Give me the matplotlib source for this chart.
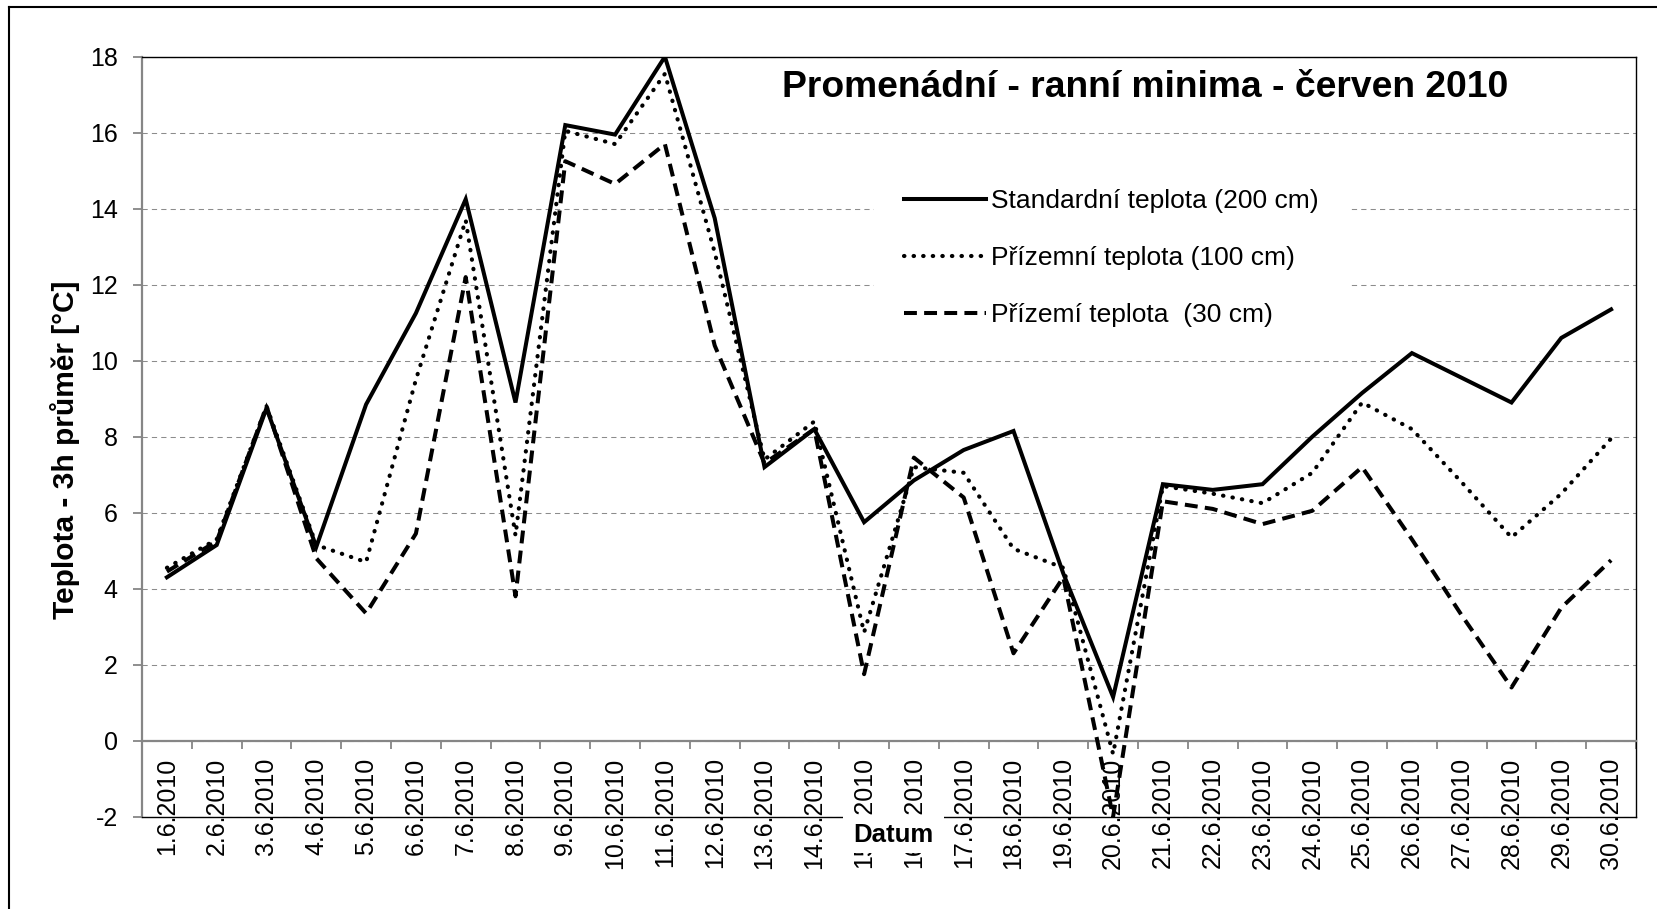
import matplotlib
matplotlib.use("Agg")
import matplotlib.pyplot as plt
from matplotlib.lines import Line2D
from matplotlib.patches import Rectangle

plt.rcParams["font.family"] = ["Liberation Sans", "DejaVu Sans"]
plt.rcParams["axes.unicode_minus"] = False

W, H = 1657, 909

days = ["%d.6.2010" % d for d in range(1, 31)]

t_200 = [4.3, 5.15, 8.75, 5.1, 8.85, 11.25, 14.25, 8.9, 16.2, 15.95,
         18.0, 13.75, 7.2, 8.2, 5.75, 6.85, 7.65, 8.15, 4.4, 1.15,
         6.75, 6.6, 6.75, 8.0, 9.15, 10.2, 9.55, 8.9, 10.6, 11.35]
t_100 = [4.55, 5.3, 8.8, 5.15, 4.7, 9.5, 13.7, 5.4, 16.05, 15.7,
         17.55, 12.85, 7.4, 8.4, 2.85, 7.2, 7.05, 5.05, 4.55, -0.35,
         6.7, 6.5, 6.25, 7.05, 8.9, 8.2, 6.8, 5.35, 6.5, 7.95]
t_30 = [4.45, 5.25, 8.8, 4.8, 3.35, 5.45, 12.2, 3.8, 15.25, 14.65,
        15.7, 10.4, 7.3, 8.2, 1.75, 7.45, 6.4, 2.3, 4.3, -2.0,
        6.3, 6.1, 5.7, 6.05, 7.2, 5.3, 3.3, 1.4, 3.5, 4.75]

labels = ["Standardní teplota (200 cm)", "Přízemní teplota (100 cm)", "Přízemí teplota  (30 cm)"]

fig = plt.figure(figsize=(W / 100, H / 100), dpi=100)
ax = fig.add_axes([142 / W, 1 - 816.7 / H, 1494 / W, 760 / H])

x = list(range(len(days)))
l1, = ax.plot(x, t_200, color="black", lw=2.9, solid_joinstyle="miter", zorder=4)
l2, = ax.plot(x, t_100, color="black", lw=3.0, linestyle=(0, (0.1, 2.2)),
              dash_capstyle="round", zorder=4)
l3, = ax.plot(x, t_30, color="black", lw=2.9, linestyle=(0, (3.2, 1.8)), zorder=4)

ax.set_xlim(-0.5, 29.5)
ax.set_ylim(-2, 18)

# gridlines
ax.set_yticks(range(-2, 19, 2))
ax.yaxis.grid(True, color="#8c8c8c", lw=0.75, linestyle=(0, (5, 4)))
ax.set_axisbelow(True)

ax.set_xticks(x)
ax.set_xticklabels(days)
ax.set_xticks([i - 0.5 for i in range(31)], minor=True)
ax.tick_params(axis="x", which="major", length=0, pad=12, labelsize=18, labelrotation=90)
ax.tick_params(axis="x", which="minor", length=6, width=1.3, color="#868686", direction="out")
ax.tick_params(axis="y", length=6.5, width=1.3, color="#868686", pad=11, labelsize=18)

for s in ("left", "bottom"):
    ax.spines[s].set_color("#868686")
    ax.spines[s].set_linewidth(1.6)
ax.spines["bottom"].set_position(("data", 0))
for s in ("top", "right"):
    ax.spines[s].set_color("black")
    ax.spines[s].set_linewidth(1.0)
ax.axhline(-2, color="black", lw=1.0, clip_on=False, zorder=2.6)

leg = ax.legend([l1, l2, l3], labels, loc="upper left",
                bbox_to_anchor=(874 / W, 1 - 159 / H), bbox_transform=fig.transFigure,
                borderaxespad=0, borderpad=1.15, fontsize=19, handlelength=3.1,
                handletextpad=0.2, labelspacing=1.25, fancybox=False,
                facecolor="white", framealpha=1)
leg.get_frame().set_linewidth(0)

fig.text(1145 / W, 1 - 97 / H, "Promenádní - ranní minima - červen 2010",
         fontsize=26.8, fontweight="bold", ha="center", va="baseline")
fig.text(65 / W, 1 - 450 / H, "Teplota - 3h průměr [°C]", fontsize=21.5,
         fontweight="bold", rotation=90, ha="center", va="center")

# white box behind the x-axis title
fig.add_artist(Rectangle((843 / W, 1 - 853 / H), 101 / W, 38 / H, transform=fig.transFigure,
                         facecolor="white", edgecolor="none", zorder=3))
fig.text(893.5 / W, 1 - 835 / H, "Datum", fontsize=18.5, fontweight="bold",
         ha="center", va="center", zorder=4)

# outer chart frame (left and top edges visible)
fig.add_artist(Line2D([8.6 / W, 8.6 / W], [0, 1 - 6.7 / H], color="black", lw=1.5,
                      transform=fig.transFigure))
fig.add_artist(Line2D([8.6 / W, 1], [1 - 6.7 / H, 1 - 6.7 / H], color="black", lw=1.5,
                      transform=fig.transFigure))

fig.savefig("out.png", dpi=100, facecolor="white")
